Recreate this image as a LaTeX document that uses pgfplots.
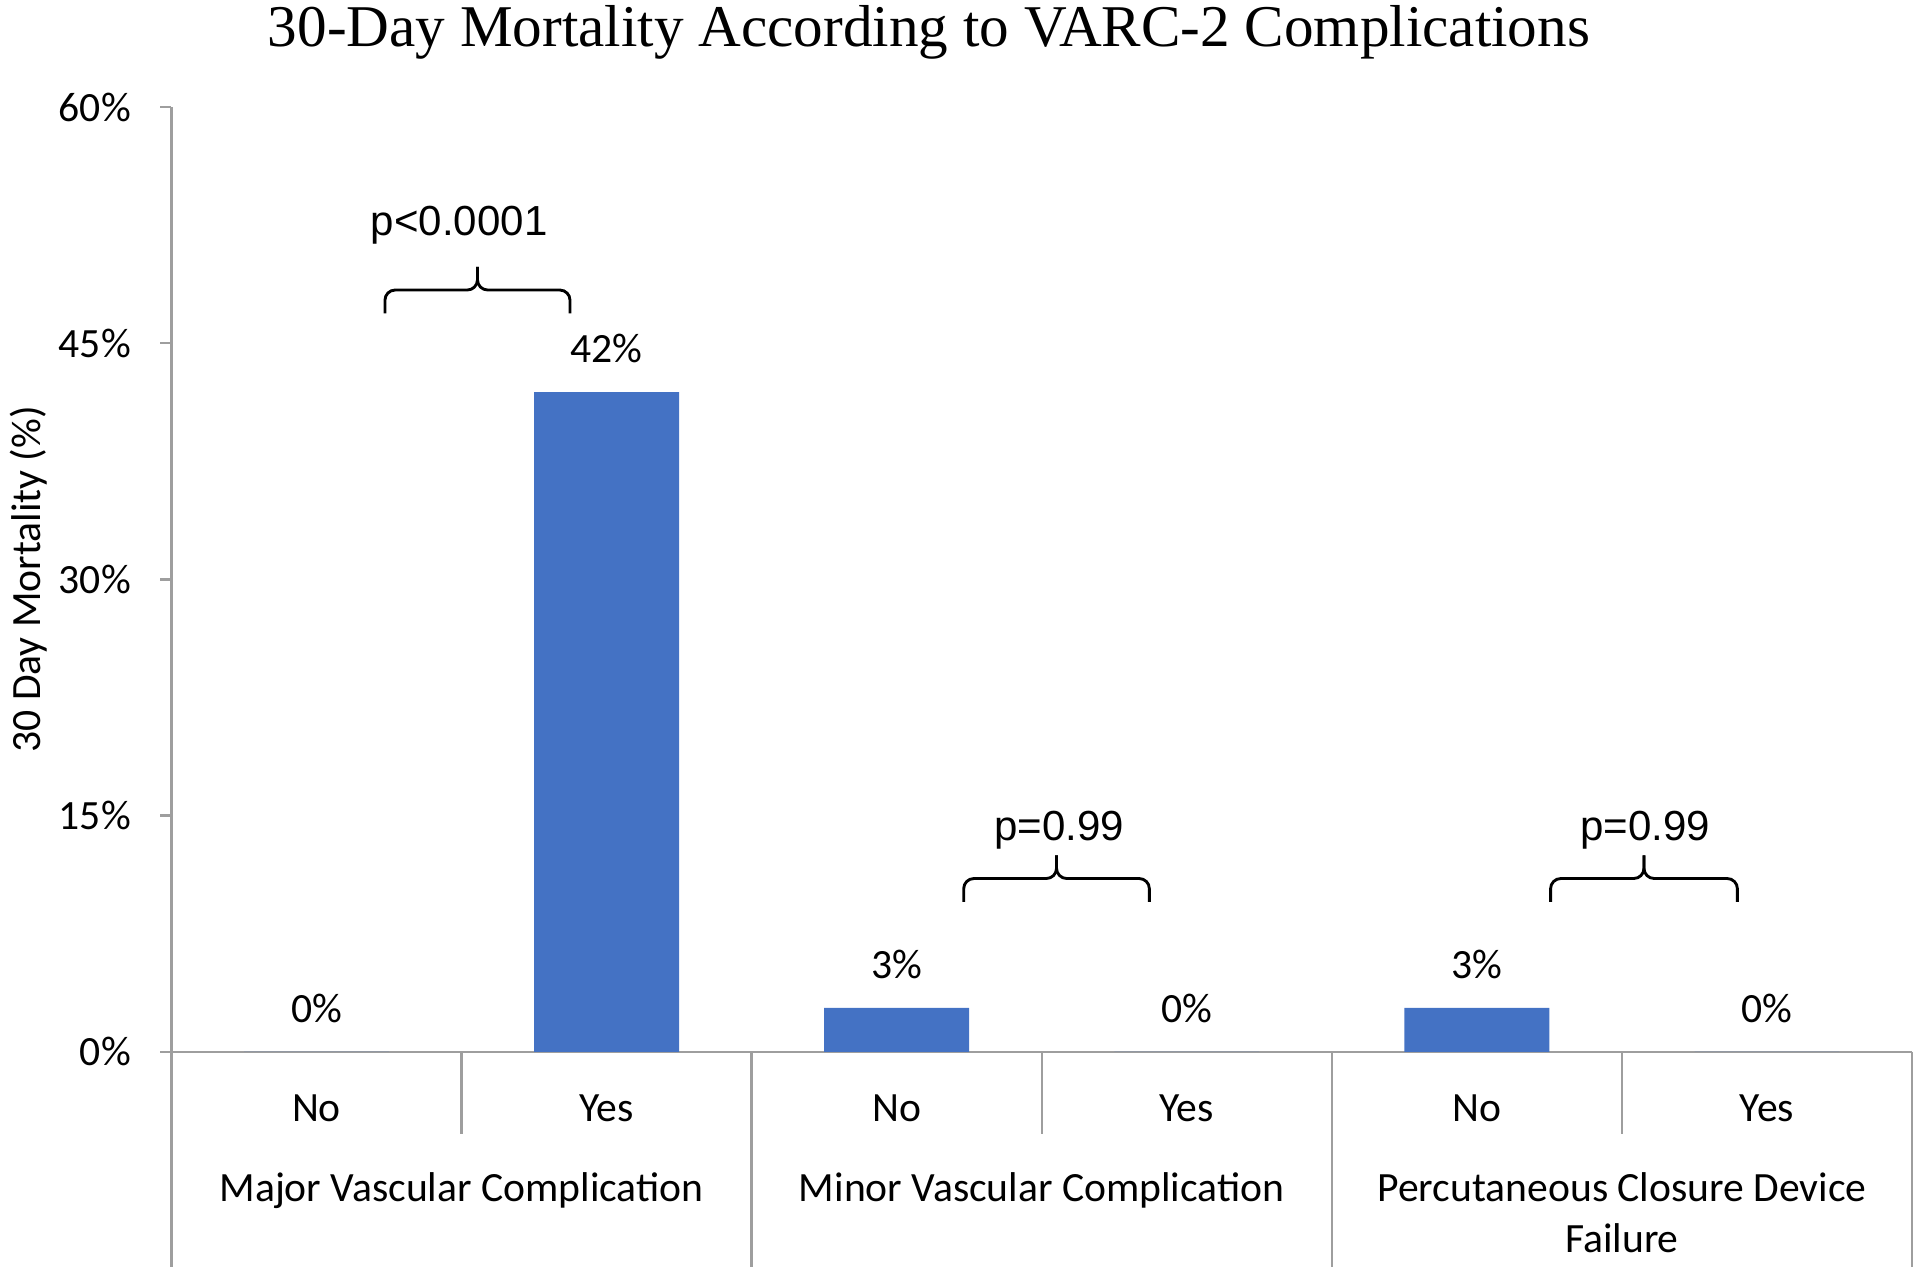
\documentclass[border=0pt]{standalone}
\usepackage{fontspec}
\setmainfont{Carlito}
\newfontfamily\titlefont{Liberation Serif}
\newfontfamily\pfont{Liberation Sans}
\usepackage{pgfplots}
\pgfplotsset{compat=1.18}
\definecolor{barblue}{HTML}{4472C4}
\definecolor{axgray}{HTML}{9E9E9E}

\begin{document}
\begin{tikzpicture}[font=\fontsize{10.2}{12.2}\selectfont]
\begin{axis}[
  scale only axis,
  width=426.45pt, height=231.5pt,
  at={(0pt,0pt)}, anchor=south west,
  xmin=-0.5, xmax=5.5, ymin=0, ymax=60,
  axis x line*=bottom, axis y line*=left,
  axis line style={axgray, line width=0.6pt},
  /pgf/number format/assume math mode=true,
  ytick={0,15,30,45,60},
  yticklabel={\pgfmathprintnumber{\tick}\%},
  tick align=outside,
  major tick length=2.7pt,
  ytick style={axgray, line width=0.6pt},
  yticklabel style={anchor=east, inner sep=0pt, xshift=-7.05pt},
  xtick={0,1,2,3,4,5},
  xticklabels={No,Yes,No,Yes,No,Yes},
  xtick style={draw=none},
  xticklabel style={anchor=base, inner sep=0pt, yshift=-14.4pt},
  ybar, bar width=35.5pt,
  nodes near coords={\pgfmathprintnumber[fixed,precision=0]{\pgfplotspointmeta}\%},
  every node near coord/.append style={anchor=base, inner sep=0pt, yshift=7.2pt, black},
  clip=false,
]
\addplot[fill=barblue, draw=none] coordinates {(0,0) (1,41.9) (2,2.8) (3,0) (4,2.8) (5,0)};

% category separators
\draw[axgray, line width=0.6pt] (axis cs:0.5,0) -- ++(0pt,-20pt);
\draw[axgray, line width=0.6pt] (axis cs:2.5,0) -- ++(0pt,-20pt);
\draw[axgray, line width=0.6pt] (axis cs:4.5,0) -- ++(0pt,-20pt);
\draw[axgray, line width=0.6pt] (axis cs:-0.5,0) -- ++(0pt,-52.65pt);
\draw[axgray, line width=0.6pt] (axis cs:1.5,0) -- ++(0pt,-52.65pt);
\draw[axgray, line width=0.6pt] (axis cs:3.5,0) -- ++(0pt,-52.65pt);
\draw[axgray, line width=0.6pt] (axis cs:5.5,0) -- ++(0pt,-52.65pt);
% group labels
\node[anchor=base, inner sep=0pt] at ([yshift=-36.7pt]axis cs:0.5,0) {Major Vascular Complication};
\node[anchor=base, inner sep=0pt] at ([yshift=-36.7pt]axis cs:2.5,0) {Minor Vascular Complication};
\node[anchor=base, inner sep=0pt] at ([yshift=-36.7pt]axis cs:4.5,0) {Percutaneous Closure Device};
\node[anchor=base, inner sep=0pt] at ([yshift=-49.1pt]axis cs:4.5,0) {Failure};

% braces
\draw[line width=0.7pt, rounded corners=2.5pt] (axis cs:0.236,46.9) -- ([yshift=5.7pt]axis cs:0.236,46.9) -- ([yshift=5.7pt]axis cs:0.555,46.9) -- ([yshift=11.4pt]axis cs:0.555,46.9);
\draw[line width=0.7pt, rounded corners=2.5pt] (axis cs:0.874,46.9) -- ([yshift=5.7pt]axis cs:0.874,46.9) -- ([yshift=5.7pt]axis cs:0.555,46.9) -- ([yshift=11.4pt]axis cs:0.555,46.9);
\draw[line width=0.7pt, rounded corners=2.5pt] (axis cs:2.231,9.53) -- ([yshift=5.7pt]axis cs:2.231,9.53) -- ([yshift=5.7pt]axis cs:2.551,9.53) -- ([yshift=11.4pt]axis cs:2.551,9.53);
\draw[line width=0.7pt, rounded corners=2.5pt] (axis cs:2.871,9.53) -- ([yshift=5.7pt]axis cs:2.871,9.53) -- ([yshift=5.7pt]axis cs:2.551,9.53) -- ([yshift=11.4pt]axis cs:2.551,9.53);
\draw[line width=0.7pt, rounded corners=2.5pt] (axis cs:4.254,9.53) -- ([yshift=5.7pt]axis cs:4.254,9.53) -- ([yshift=5.7pt]axis cs:4.576,9.53) -- ([yshift=11.4pt]axis cs:4.576,9.53);
\draw[line width=0.7pt, rounded corners=2.5pt] (axis cs:4.898,9.53) -- ([yshift=5.7pt]axis cs:4.898,9.53) -- ([yshift=5.7pt]axis cs:4.576,9.53) -- ([yshift=11.4pt]axis cs:4.576,9.53);
% p-values
\node[anchor=base, inner sep=0pt, font=\pfont\fontsize{10.3}{12}\selectfont] at (axis cs:0.492,51.87) {p<0.0001};
\node[anchor=base, inner sep=0pt, font=\pfont\fontsize{10.3}{12}\selectfont] at (axis cs:2.561,13.45) {p=0.99};
\node[anchor=base, inner sep=0pt, font=\pfont\fontsize{10.3}{12}\selectfont] at (axis cs:4.580,13.45) {p=0.99};
\end{axis}
% y label
\node[rotate=90, anchor=center, inner sep=0pt] at (-35.1pt,115.75pt) {30 Day Mortality (\%)};
% title
\node[anchor=base, inner sep=0pt, font=\titlefont\fontsize{14.5}{17}\selectfont] at (185.6pt,246.2pt) {30-Day Mortality According to VARC-2 Complications};
\pgfresetboundingbox
\path (-42.0pt,-54.0pt) rectangle (428.4pt,257.7pt);
\end{tikzpicture}
\end{document}
